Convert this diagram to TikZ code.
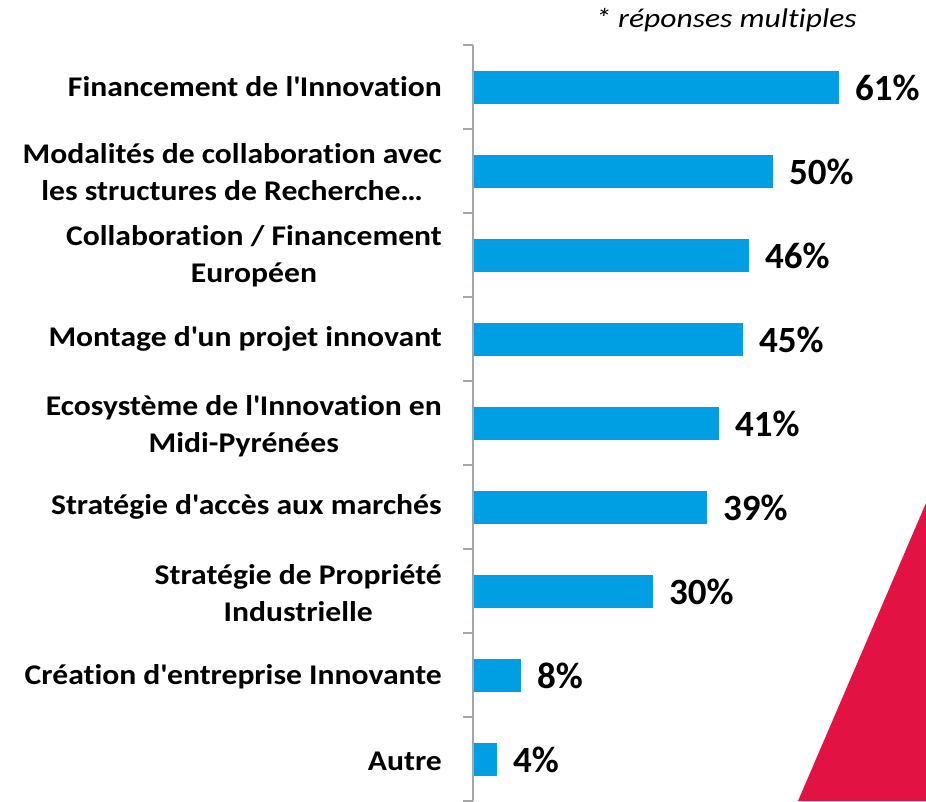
\documentclass[tikz,border=0pt]{standalone}
\usepackage{fontspec}
\setmainfont{Carlito}[Ligatures=NoCommon]
\newfontfamily\labfont{Carlito}[Ligatures=NoCommon,FakeStretch=1.11]
\newfontfamily\notefont{Carlito}[Ligatures=NoCommon,FakeStretch=1.17]
\definecolor{barblue}{HTML}{009FE3}
\definecolor{axisgray}{HTML}{A6A6A6}
\definecolor{crimson}{HTML}{E21242}
\begin{document}
\begin{tikzpicture}[x=1pt,y=-1pt,
  lab/.style={anchor=east,align=center,inner sep=0pt,font=\labfont\bfseries\fontsize{28.5}{37}\selectfont},
  val/.style={anchor=west,inner sep=0pt,font=\bfseries\fontsize{37}{42}\selectfont},
  bar/.style={fill=barblue,draw=none},
  axisline/.style={draw=axisgray,line width=2pt}]
\useasboundingbox (0,0) rectangle (926,801);
% red triangle
\fill[crimson] (926,503) -- (798,801) -- (926,801) -- cycle;
% note
\node[anchor=base east,inner sep=0pt,font=\notefont\itshape\fontsize{27}{32}\selectfont] (note) at (857,27) {* réponses multiples};
% axis
\coordinate (atop) at (473,45);
\coordinate (abot) at (473,801);
\draw[axisline] (atop) -- (abot);
\foreach \k in {0,...,9}{
  \coordinate (t\k) at (473,45+84*\k);
  \coordinate (u\k) at (463,45+84*\k);
  \draw[axisline] (u\k) -- (t\k);
}
% bars
\foreach \i/\v in {1/61,2/50,3/46,4/45,5/41,6/39,7/30,8/8,9/4}{
  \pgfmathsetmacro{\yc}{87+84*(\i-1)}
  \fill[bar] (474,\yc-16.5) rectangle (473+6*\v,\yc+16.5);
  \node[val] (v\i) at (473+6*\v+16,\yc+1) {\v\%};
}
% labels
\node[lab] (l1) at (442,87) {Financement de l\textquotesingle Innovation};
\node[lab] (l2) at (442,172) {Modalités de collaboration avec\\les structures de Recherche…};
\node[lab] (l3) at (442,256) {Collaboration / Financement\\Européen};
\node[lab] (l4) at (442,339) {Montage d\textquotesingle un projet innovant};
\node[lab] (l5) at (442,426) {Ecosystème de l\textquotesingle Innovation en\\Midi-Pyrénées};
\node[lab] (l6) at (442,507) {Stratégie d\textquotesingle accès aux marchés};
\node[lab] (l7) at (442,593) {Stratégie de Propriété\\Industrielle};
\node[lab] (l8) at (442,677) {Création d\textquotesingle entreprise Innovante};
\node[lab] (l9) at (442,761) {Autre};
\end{tikzpicture}
\end{document}
